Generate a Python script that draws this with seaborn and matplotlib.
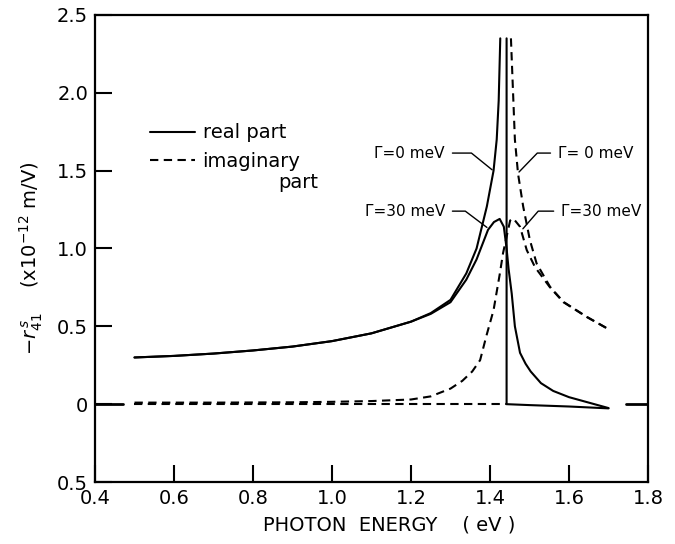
import matplotlib
matplotlib.use("Agg")
import matplotlib.pyplot as plt
import seaborn as sns
import numpy as np
import pandas as pd

# ---------------- data ----------------
# real part, Gamma = 0 meV : below the gap (diverges at Eg)
re0_lo_x = [0.50, 0.60, 0.70, 0.80, 0.90, 1.00, 1.10, 1.20, 1.25, 1.30, 1.34, 1.366, 1.392, 1.409, 1.417, 1.422, 1.426]
re0_lo_y = [0.30, 0.31, 0.325, 0.345, 0.37, 0.405, 0.455, 0.53, 0.585, 0.67, 0.84, 1.00, 1.27, 1.50, 1.70, 1.95, 2.35]
# real part, Gamma = 0 meV : vertical drop at Eg and above the gap
re0_hi_x = [1.442, 1.442, 1.50, 1.60, 1.70]
re0_hi_y = [2.35, 0.00, -0.006, -0.015, -0.027]
# real part, Gamma = 30 meV
re30_x = [0.50, 0.60, 0.70, 0.80, 0.90, 1.00, 1.10, 1.20, 1.25, 1.30, 1.34, 1.366, 1.395, 1.41, 1.4245,
          1.435, 1.442, 1.447, 1.455, 1.463, 1.476, 1.49, 1.503, 1.529, 1.56, 1.60, 1.65, 1.70]
re30_y = [0.30, 0.31, 0.325, 0.345, 0.37, 0.405, 0.455, 0.53, 0.58, 0.655, 0.80, 0.93, 1.12, 1.17, 1.19,
          1.14, 1.00, 0.87, 0.71, 0.50, 0.33, 0.26, 0.21, 0.135, 0.085, 0.045, 0.01, -0.025]
# imaginary part, Gamma = 0 meV : zero below the gap
im0_lo_x = [0.50, 1.442]
im0_lo_y = [0.0, 0.0]
# imaginary part, Gamma = 0 meV : above the gap
im0_hi_x = [1.453, 1.463, 1.471, 1.484, 1.501, 1.518, 1.552, 1.586, 1.645, 1.704]
im0_hi_y = [2.35, 1.70, 1.48, 1.27, 1.054, 0.904, 0.754, 0.657, 0.561, 0.476]
# imaginary part, Gamma = 30 meV
im30_x = [0.50, 0.70, 0.90, 1.00, 1.10, 1.20, 1.25, 1.30, 1.33, 1.355, 1.375, 1.391, 1.409, 1.425, 1.433,
          1.451, 1.459, 1.476, 1.493, 1.514, 1.552, 1.586, 1.645, 1.704]
im30_y = [0.01, 0.01, 0.012, 0.015, 0.02, 0.03, 0.05, 0.10, 0.15, 0.21, 0.283, 0.44, 0.604, 0.84, 0.97,
          1.18, 1.193, 1.14, 0.99, 0.88, 0.75, 0.655, 0.56, 0.476]

xticks = [0.4, 0.6, 0.8, 1.0, 1.2, 1.4, 1.6, 1.8]
xtick_labels = ["0.4", "0.6", "0.8", "1.0", "1.2", "1.4", "1.6", "1.8"]
yticks = [-0.5, 0.0, 0.5, 1.0, 1.5, 2.0, 2.5]
ytick_labels = ["0.5", "0", "0.5", "1.0", "1.5", "2.0", "2.5"]

# ---------------- figure ----------------
sns.set_theme(style="white")
plt.rcParams["font.family"] = ["DejaVu Sans"]
plt.rcParams["mathtext.fontset"] = "dejavusans"
plt.rcParams["text.color"] = "black"
plt.rcParams["axes.labelcolor"] = "black"

fig = plt.figure(figsize=(6.75, 5.44), dpi=100)
ax = fig.add_axes([95 / 675, 1 - 482 / 544, 553 / 675, 467 / 544])

solid = dict(color="black", linewidth=1.5, sort=False, estimator=None, ax=ax, legend=False)
dash = (0, (4.0, 2.6))

def draw(xs, ys, dashed=False):
    df = pd.DataFrame({"E": xs, "r": ys})
    ln = sns.lineplot(data=df, x="E", y="r", **solid)
    line = ln.get_lines()[-1]
    if dashed:
        line.set_linestyle(dash)
    return line

l_real = draw(re0_lo_x, re0_lo_y)
draw(re0_hi_x, re0_hi_y)
draw(re30_x, re30_y)
l_imag = draw(im0_lo_x, im0_lo_y, dashed=True)
draw(im0_hi_x, im0_hi_y, dashed=True)
draw(im30_x, im30_y, dashed=True)

ax.set_xlim(0.4, 1.8)
ax.set_ylim(-0.5, 2.5)
ax.set_xticks(xticks)
ax.set_xticklabels(xtick_labels)
ax.set_yticks(yticks)
ax.set_yticklabels(ytick_labels)
ax.tick_params(direction="in", length=12, width=1.5, labelsize=14, colors="black",
               bottom=True, left=True, top=False, right=False, pad=5)
for s in ax.spines.values():
    s.set_visible(True)
    s.set_color("black")
    s.set_linewidth(1.6)

# zero marks on the frame
ax.axhline(0, xmin=0, xmax=28 / 553, color="black", lw=2)
ax.axhline(0, xmin=1 - 22 / 553, xmax=1, color="black", lw=2)

ax.set_xlabel("PHOTON  ENERGY    ( eV )", fontsize=14, color="black")
ax.xaxis.set_label_coords(0.532, -0.072)
ax.set_ylabel(r"$-r^{\,s}_{41}$    (x10$^{-12}$ m/V)", fontsize=14, color="black")
ax.yaxis.set_label_coords(-0.09, 0.48)

# legend
leg = ax.legend([l_real, l_imag], ["real part", "imaginary"], loc="upper left",
                bbox_to_anchor=(0.0995, 0.768), frameon=False, fontsize=14,
                handlelength=2.3, handletextpad=0.4, labelspacing=0.5,
                borderpad=0, borderaxespad=0)
for t in leg.get_texts():
    t.set_color("black")
ax.text(0.403, 0.642, "part", transform=ax.transAxes, ha="right", va="center", fontsize=14)

# annotations
def note(text, xy, xytext, ha, angleB):
    ax.annotate(text, xy=xy, xytext=xytext, ha=ha, va="center", fontsize=11,
                arrowprops=dict(arrowstyle="-", color="black", lw=1.0,
                                connectionstyle=f"angle,angleA=0,angleB={angleB},rad=0",
                                shrinkA=3, shrinkB=1,
                                relpos=(1, 0.5) if ha == "right" else (0, 0.5)))

note("Γ=0 meV", (1.408, 1.50), (1.286, 1.613), "right", 141)
note("Γ=30 meV", (1.395, 1.13), (1.286, 1.240), "right", 143)
note("Γ= 0 meV", (1.471, 1.485), (1.572, 1.613), "left", 46)
note("Γ=30 meV", (1.481, 1.12), (1.580, 1.240), "left", 49)

fig.savefig("out.png", dpi=100, facecolor="white")
